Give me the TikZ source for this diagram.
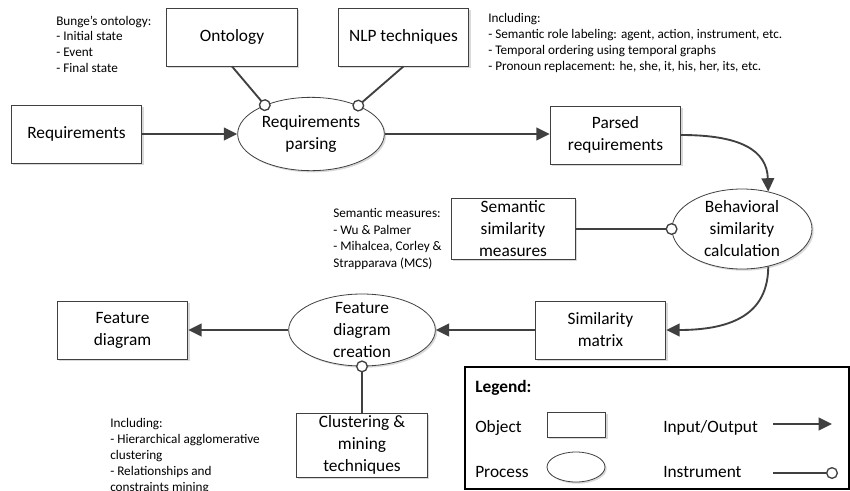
\documentclass[tikz,border=0pt]{standalone}
\usepackage{fontspec}
\setmainfont{Carlito}
\usetikzlibrary{shapes.geometric,arrows.meta,shadows}

\newcommand{\diagfont}{\fontsize{13}{16.5}\selectfont}
\newcommand{\notefont}{\fontsize{9.9}{11.9}\selectfont}
\definecolor{linegray}{HTML}{404040}

\tikzset{
  softshadow/.style={drop shadow={shadow xshift=1.3pt, shadow yshift=-1.3pt, fill=black!15, opacity=1}},
  object/.style={draw=black!75, line width=0.6pt, fill=white, align=center,
    minimum width=98pt, minimum height=43.5pt, inner sep=2pt, font=\diagfont, softshadow},
  process/.style={ellipse, draw=black!75, line width=0.6pt, fill=white, softshadow,
    label={[align=center, font=\diagfont]center:#1}},
  process/.default={},
  note/.style={align=left, inner sep=0pt, anchor=north west, font=\notefont},
  legtext/.style={anchor=west, inner sep=0pt, font=\diagfont},
  flow/.style={draw=linegray, line width=1.4pt, -{Triangle[length=10pt,width=9.5pt]}},
  instr/.style={draw=linegray, line width=1.4pt,
    -{Circle[length=9pt, fill=white, line width=1pt]}, shorten >=-4.5pt},
}

\begin{document}
\begin{tikzpicture}[x=0.75pt, y=-0.75pt]
\useasboundingbox (0,0) rectangle (850,490);
\clip (0,0) rectangle (850,490);

% objects
\node[object] (ont) at (232,37) {Ontology};
\node[object] (nlp) at (403.5,37) {NLP techniques};
\node[object] (req) at (76.5,134) {Requirements};
\node[object] (parsed) at (615.5,135) {Parsed\\requirements};
\node[object, minimum width=93pt] (sem) at (513,229) {Semantic\\similarity\\measures};
\node[object] (sim) at (600.5,330) {Similarity\\matrix};
\node[object] (fd) at (122.5,330) {Feature\\diagram};
\node[object] (clu) at (362,445) {Clustering \&\\mining\\techniques};

% processes
\node[process={Requirements\\parsing}, minimum width=110pt, minimum height=55pt] (parse) at (311,134) {};
\node[process={Behavioral\\similarity\\calculation}, minimum width=105pt, minimum height=60pt] (beh) at (742,229) {};
\node[process={Feature\\diagram\\creation}, minimum width=110pt, minimum height=54pt] (fdc) at (362,330) {};

% notes
\node[note] (bunge) at (56,15.5) {Bunge’s ontology:\\- Initial state\\- Event\\- Final state};
\node[note] (nlpnote) at (488,13.5) {Including:\\- Semantic role labeling: agent, action, instrument, etc.\\- Temporal ordering using temporal graphs\\- Pronoun replacement: he, she, it, his, her, its, etc.};
\node[note, font=\fontsize{9.9}{12.3}\selectfont] (semnote) at (333,208.5) {Semantic measures:\\- Wu \& Palmer\\- Mihalcea, Corley \&\\Strapparava (MCS)};
\node[note, font=\fontsize{9.9}{12}\selectfont] (clunote) at (110,418.5) {Including:\\- Hierarchical agglomerative\\clustering\\- Relationships and\\constraints mining};

% input/output
\draw[flow] (req.east) -- (parse.west);
\draw[flow] (parse.east) -- (parsed.west |- parse.east);
\draw[flow] (parsed.east) .. controls (740,135) and (767,150) .. (beh.55);
\draw[flow] (beh.-55) .. controls (768,305) and (745,330) .. (sim.east);
\draw[flow] (sim.west) -- (fdc.east);
\draw[flow] (fdc.west) -- (fd.east);

% instruments
\foreach \src/\dst in {ont.south/parse.148, nlp.south/parse.31, sem.east/beh.west, clu.north/fdc.south}
{
  \draw[instr] (\src) -- (\dst);
}

% legend
\draw[line width=1.5pt] (465,367) rectangle (849,489);
\node[legtext, font=\diagfont\bfseries] (legtitle) at (475,388) {Legend:};
\node[legtext] (legobj) at (475,428) {Object};
\node[legtext] (legproc) at (475,472) {Process};
\node[legtext] (legio) at (663,428) {Input/Output};
\node[legtext] (leginstr) at (663,472) {Instrument};
\node[object, minimum width=44pt, minimum height=18.75pt] (objsample) at (576.5,424.5) {};
\node[process, minimum width=43.5pt, minimum height=22.5pt] (procsample) at (576,467) {};
\coordinate (ioa) at (773,424);
\coordinate (iob) at (832,424);
\coordinate (insa) at (773,473);
\coordinate (insb) at (832,473);
\draw[flow] (ioa) -- (iob);
\draw[instr] (insa) -- (insb);

\end{tikzpicture}
\end{document}
